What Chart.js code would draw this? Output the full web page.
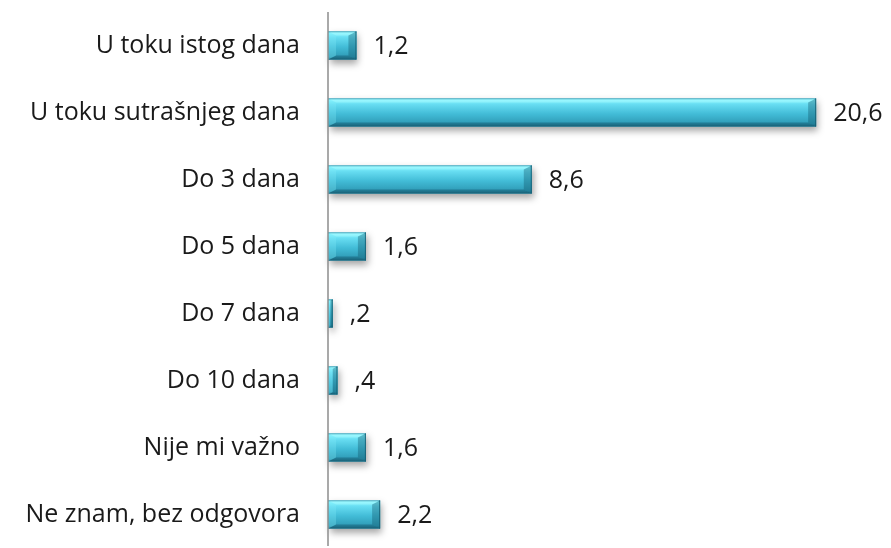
<!DOCTYPE html>
<html><head><meta charset="utf-8">
<script src="https://cdn.jsdelivr.net/npm/chart.js@4"></script>
<style>html,body{margin:0;padding:0;background:#fff}#w{width:891px;height:548px}</style>
</head><body><div id="w"><canvas id="c"></canvas></div>
<script>
const categories = ["U toku istog dana","U toku sutrašnjeg dana","Do 3 dana","Do 5 dana","Do 7 dana","Do 10 dana","Nije mi važno","Ne znam, bez odgovora"];
const values = [1.2, 20.6, 8.6, 1.6, 0.2, 0.4, 1.6, 2.2];
const valueLabels = ["1,2","20,6","8,6","1,6",",2",",4","1,6","2,2"];

const FONT = "'Open Sans', 'Noto Sans', sans-serif";
const BAR_PCT = 0.42;

function barGradient(ctx){
  const chart = ctx.chart;
  const ys = chart.scales.y;
  if(!ys || !chart.chartArea) return '#45bdd6';
  const cy = ys.getPixelForValue(ctx.dataIndex);
  const band = (chart.chartArea.bottom - chart.chartArea.top) / categories.length;
  const h = band * BAR_PCT;
  const t = cy - h/2, b = cy + h/2;
  if(!isFinite(t)) return '#45bdd6';
  const g = chart.ctx.createLinearGradient(0, t, 0, b);
  g.addColorStop(0, '#2c93ad');
  g.addColorStop(0.06, '#86f4ff');
  g.addColorStop(0.22, '#66dcf1');
  g.addColorStop(0.55, '#42bcd7');
  g.addColorStop(0.9, '#2f9bb6');
  g.addColorStop(1, '#1f7088');
  return g;
}

const bevelPlugin = {
  id: 'bevel',
  beforeDatasetsDraw(chart){
    const c = chart.ctx;
    chart.getDatasetMeta(0).data.forEach(el=>{
      const h = el.height, t = el.y - h/2, l = el.base, r = el.x;
      c.save();
      c.shadowColor = 'rgba(0,0,0,0.35)';
      c.shadowBlur = 7;
      c.shadowOffsetX = 2;
      c.shadowOffsetY = 4;
      c.fillStyle = '#3aa9c2';
      c.fillRect(l, t, r - l, h);
      c.restore();
    });
  },
  afterDatasetsDraw(chart){
    const c = chart.ctx;
    chart.getDatasetMeta(0).data.forEach((el, i)=>{
      const h = el.height, t = el.y - h/2, bt = el.y + h/2, l = el.base, r = el.x;
      const w = r - l;
      const d = Math.min(8, w/2, h/2);
      const dv = d*0.5;
      c.save();
      c.beginPath(); c.moveTo(l,t); c.lineTo(r,t); c.lineTo(r-d,t+dv); c.lineTo(l+d,t+dv); c.closePath();
      c.fillStyle='rgba(190,255,255,0.35)'; c.fill();
      c.beginPath(); c.moveTo(l,bt); c.lineTo(r,bt); c.lineTo(r-d,bt-dv); c.lineTo(l+d,bt-dv); c.closePath();
      c.fillStyle='rgba(10,60,80,0.35)'; c.fill();
      c.beginPath(); c.moveTo(l,t); c.lineTo(l+d,t+dv); c.lineTo(l+d,bt-dv); c.lineTo(l,bt); c.closePath();
      c.fillStyle='rgba(130,235,250,0.30)'; c.fill();
      c.beginPath(); c.moveTo(r,t); c.lineTo(r-d,t+dv); c.lineTo(r-d,bt-dv); c.lineTo(r,bt); c.closePath();
      c.fillStyle='rgba(15,80,100,0.35)'; c.fill();
      c.strokeStyle='rgba(20,90,110,0.8)'; c.lineWidth=1;
      c.beginPath(); c.moveTo(r-0.5,t); c.lineTo(r-0.5,bt); c.stroke();
      c.restore();
      c.save();
      c.font = "25px " + FONT;
      c.fillStyle = '#1a1a1a';
      c.textBaseline = 'middle';
      c.textAlign = 'left';
      c.fillText(valueLabels[i], r + 17, el.y + 1);
      c.restore();
    });
    const ya = chart.scales.y;
    c.save();
    c.strokeStyle = '#8c8c8c';
    c.lineWidth = 1.5;
    c.beginPath();
    c.moveTo(ya.right, 12);
    c.lineTo(ya.right, 546);
    c.stroke();
    c.restore();
  }
};

new Chart(document.getElementById('c'), {
  type: 'bar',
  data: {
    labels: categories,
    datasets: [{
      data: values,
      backgroundColor: barGradient,
      borderWidth: 0,
      barPercentage: BAR_PCT,
      categoryPercentage: 1.0
    }]
  },
  options: {
    indexAxis: 'y',
    responsive: true,
    maintainAspectRatio: false,
    animation: false,
    events: [],
    layout: { padding: { top: 12, bottom: -4, left: 0, right: 18 } },
    plugins: { legend: { display: false }, tooltip: { enabled: false } },
    scales: {
      x: { display: false, min: 0, max: 23 },
      y: {
        afterFit(s){ s.width = 328; s.paddingTop = 0; s.paddingBottom = 0; },
        grid: { display: false, drawTicks: false },
        border: { display: false },
        ticks: { padding: 28, color: '#1a1a1a', font: { family: FONT, size: 25 } }
      }
    }
  },
  plugins: [bevelPlugin]
});
</script>
</body></html>
